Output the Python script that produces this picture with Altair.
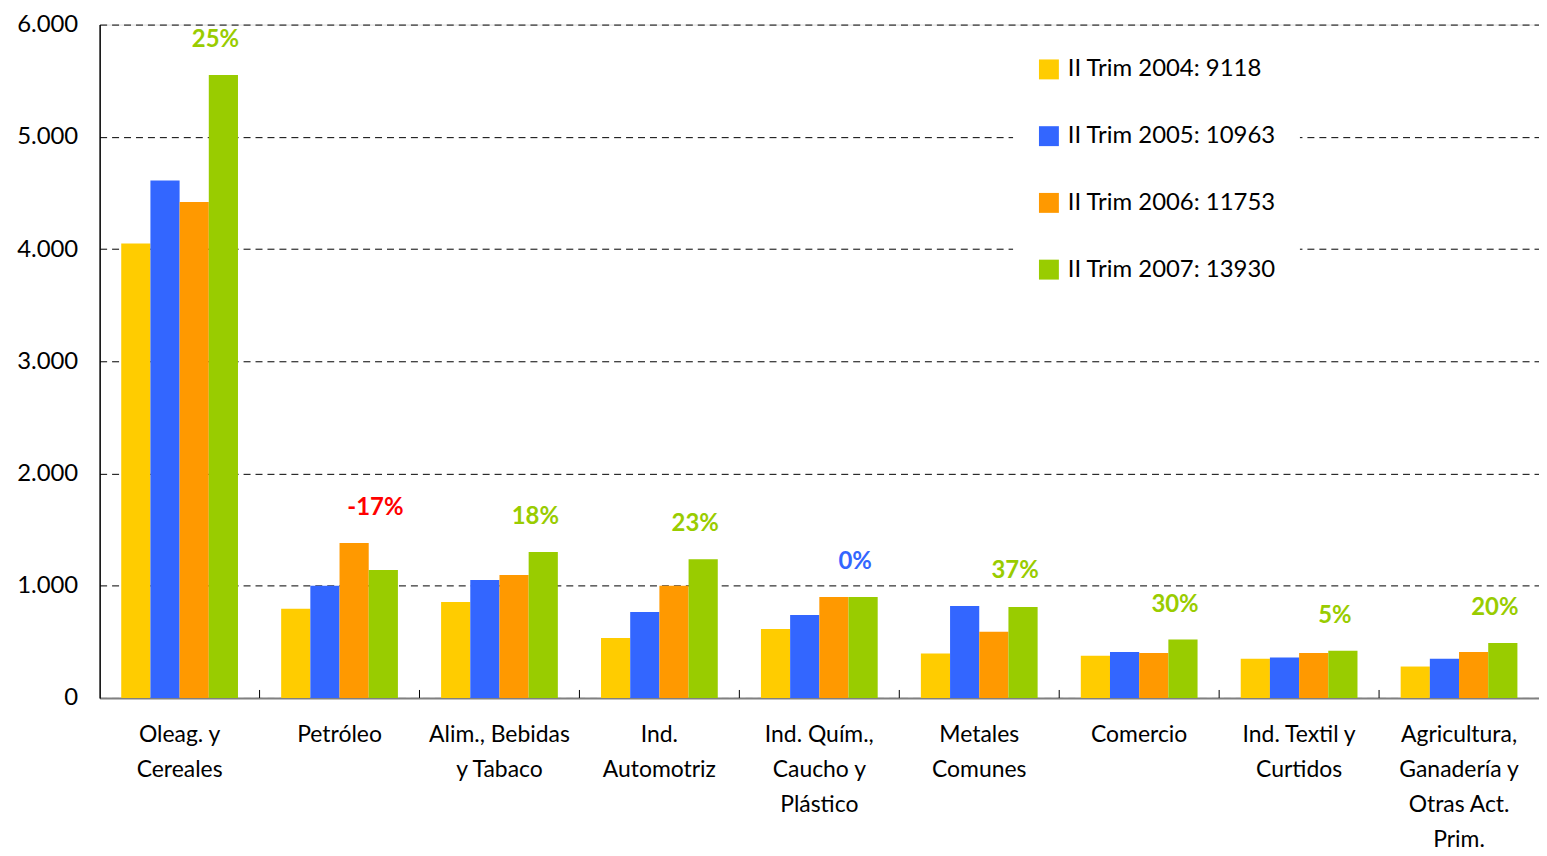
import altair as alt
import pandas as pd

categorias = [
    "Oleag. y\nCereales",
    "Petróleo",
    "Alim., Bebidas\ny Tabaco",
    "Ind.\nAutomotriz",
    "Ind. Quím.,\nCaucho y\nPlástico",
    "Metales\nComunes",
    "Comercio",
    "Ind. Textil y\nCurtidos",
    "Agricultura,\nGanadería y\nOtras Act.\nPrim.",
]
series = [
    "II Trim 2004: 9118",
    "II Trim 2005: 10963",
    "II Trim 2006: 11753",
    "II Trim 2007: 13930",
]
v2004 = [4050, 795, 855, 535, 615, 395, 375, 350, 280]
v2005 = [4610, 1000, 1050, 765, 740, 820, 410, 360, 350]
v2006 = [4420, 1380, 1095, 1000, 900, 590, 400, 400, 410]
v2007 = [5550, 1140, 1300, 1235, 900, 810, 520, 420, 490]
variacion = [25, -17, 18, 23, 0, 37, 30, 5, 20]
colores = ["#FFCC00", "#3366FF", "#FF9900", "#99CC00"]
y_ticks = [0, 1000, 2000, 3000, 4000, 5000, 6000]

FONT = "Lato"
W, H = 1445, 676

rows = []
for s, vals in zip(series, [v2004, v2005, v2006, v2007]):
    for c, v in zip(categorias, vals):
        rows.append({"categoria": c, "serie": s, "valor": v})
df = pd.DataFrame(rows)

lab = pd.DataFrame({
    "categoria": categorias,
    "pct": variacion,
    "maximo": [max(a, b, c, d) for a, b, c, d in zip(v2004, v2005, v2006, v2007)],
})
lab["etiqueta"] = lab["pct"].astype(str) + "%"

x_scale = alt.Scale(paddingInner=0.27, paddingOuter=0.135)

bars = alt.Chart(df).mark_bar().encode(
    x=alt.X("categoria:N", sort=categorias, scale=x_scale,
            axis=alt.Axis(title=None, labelAngle=0, ticks=False, grid=False,
                          domainColor="#808080", domainWidth=2,
                          labelFont=FONT, labelFontSize=23, labelColor="black",
                          labelPadding=26, labelLineHeight=35, labelLimit=0,
                          labelExpr="split(datum.label, '\\n')")),
    xOffset=alt.XOffset("serie:N", sort=series,
                        scale=alt.Scale(paddingInner=0, paddingOuter=0)),
    y=alt.Y("valor:Q", scale=alt.Scale(domain=[0, 6000], nice=False),
            axis=alt.Axis(title=None, values=y_ticks, ticks=False,
                          domainColor="black", domainWidth=1.5,
                          gridColor="black", gridDash=[7, 5], gridWidth=1,
                          labelFont=FONT, labelFontSize=24, labelColor="black",
                          labelPadding=22,
                          labelExpr="replace(format(datum.value, ','), ',', '.')")),
    color=alt.Color("serie:N", sort=series,
                    scale=alt.Scale(domain=series, range=colores),
                    legend=alt.Legend(title=None, orient="none", legendX=917, legendY=9,
                                      fillColor="white", padding=24,
                                      symbolType="square", symbolSize=400,
                                      symbolStrokeWidth=0, labelFont=FONT,
                                      labelFontSize=24, labelColor="black",
                                      rowPadding=43, labelOffset=7, labelLimit=0)),
)

ticks = alt.Chart(pd.DataFrame({"categoria": categorias[1:]})).mark_rule(
    color="black", strokeWidth=1, xOffset=-0.27 * (W / 9) / 2
).encode(
    x=alt.X("categoria:N", sort=categorias, bandPosition=0),
    y=alt.value(H - 8),
    y2=alt.value(H),
)

text = alt.Chart(lab).mark_text(
    font=FONT, fontSize=24, fontWeight="bold", dx=36, dy=-35, baseline="middle"
).encode(
    x=alt.X("categoria:N", sort=categorias),
    y=alt.Y("maximo:Q"),
    text="etiqueta:N",
    color=alt.when(alt.datum.pct < 0).then(alt.value("#FF0000"))
        .when(alt.datum.pct == 0).then(alt.value("#3366FF"))
        .otherwise(alt.value("#99CC00")),
)

chart = alt.layer(bars, ticks, text).properties(
    width=W, height=H,
    padding={"left": 8, "top": 3, "right": 0, "bottom": 0},
).configure_view(stroke=None).configure(background="white")

chart.save("out.html", embed_options={"renderer": "svg", "actions": False})
